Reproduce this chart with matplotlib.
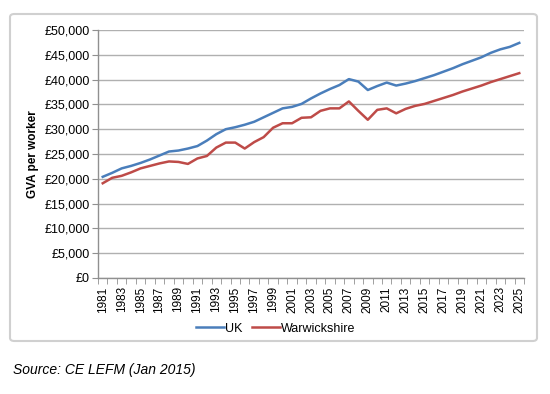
"""
GVA per worker: UK vs Warwickshire, 1981-2025.
"""

import matplotlib
matplotlib.use('Agg')
import matplotlib.pyplot as plt
from matplotlib.patches import FancyBboxPatch
from matplotlib.ticker import FuncFormatter, FixedLocator

plt.rcParams['font.family'] = ['Liberation Sans', 'DejaVu Sans']

years = list(range(1981, 2026))
uk = [
	20.4, 21.2, 22.1, 22.6, 23.2, 23.9, 24.7, 25.5, 25.7, 26.1,
	26.6, 27.7, 29.0, 30.0, 30.4, 30.9, 31.5, 32.4, 33.3, 34.2,
	34.5, 35.1, 36.2, 37.2, 38.1, 38.9, 40.1, 39.6, 37.9, 38.7,
	39.4, 38.8, 39.2, 39.7, 40.3, 40.9, 41.6, 42.3, 43.1, 43.8,
	44.5, 45.4, 46.1, 46.6, 47.4,
]
warwickshire = [
	19.1, 20.2, 20.6, 21.3, 22.1, 22.6, 23.1, 23.5, 23.4, 23.0,
	24.1, 24.6, 26.3, 27.3, 27.3, 26.1, 27.4, 28.4, 30.3, 31.2,
	31.2, 32.3, 32.4, 33.7, 34.2, 34.2, 35.6, 33.7, 31.9, 33.9,
	34.2, 33.2, 34.1, 34.7, 35.1, 35.7, 36.3, 36.9, 37.6, 38.2,
	38.8, 39.5, 40.1, 40.7, 41.3,
]
uk = [v * 1000 for v in uk]
warwickshire = [v * 1000 for v in warwickshire]

fig = plt.figure(figsize=(5.5, 3.94), dpi=100)

# Chart area frame (behind the axes)
frame = FancyBboxPatch(
	(10 / 550, 1 - 341 / 394), 527 / 550, 327 / 394,
	boxstyle='round,pad=0,rounding_size=0.008',
	transform=fig.transFigure, facecolor='none',
	edgecolor='#d0d0d0', linewidth=1.5, zorder=-1)
fig.patches.append(frame)

ax = fig.add_axes([98 / 550, 1 - 278 / 394, 426 / 550, 248 / 394])
ax.set_facecolor('none')

x = list(range(len(years)))
ax.plot(x, uk, color='#4a7ebb', linewidth=1.8, label='UK', zorder=3)
ax.plot(x, warwickshire, color='#be4b48', linewidth=1.8, label='Warwickshire', zorder=3)

ax.set_xlim(-0.5, len(years) - 0.5)
ax.set_ylim(0, 50000)

ax.yaxis.set_major_locator(FixedLocator(range(0, 50001, 5000)))
ax.yaxis.set_major_formatter(FuncFormatter(lambda v, p: f'£{int(v):,}'))
ax.grid(axis='y', color='#b0b0b0', linewidth=1.0)
ax.set_axisbelow(True)

ax.set_xticks(x[::2])
ax.set_xticklabels([str(y) for y in years[::2]], rotation=90)
ax.set_xticks([i - 0.5 for i in range(len(years) + 1)], minor=True)
ax.tick_params(axis='x', which='major', length=0, pad=6, labelsize=8.5)
ax.tick_params(axis='x', which='minor', length=4, color='#909090', direction='out')
ax.tick_params(axis='y', length=4, color='#909090', labelsize=9, pad=2)

for side in ('top', 'right'):
	ax.spines[side].set_visible(False)
for side in ('left', 'bottom'):
	ax.spines[side].set_color('#909090')
	ax.spines[side].set_linewidth(1.0)

ax.set_ylabel('GVA per worker', fontsize=8.5, fontweight='bold', labelpad=4)

ax.legend(loc='center', bbox_to_anchor=(0.417, -0.205), ncol=2, frameon=False,
	fontsize=9, handlelength=2.2, handletextpad=0.1, columnspacing=0.8)

fig.text(13 / 550, 1 - 370 / 394, 'Source: CE LEFM (Jan 2015)', fontsize=10,
	style='italic', va='center', ha='left')

plt.savefig('out.png', dpi=100)
plt.close()
